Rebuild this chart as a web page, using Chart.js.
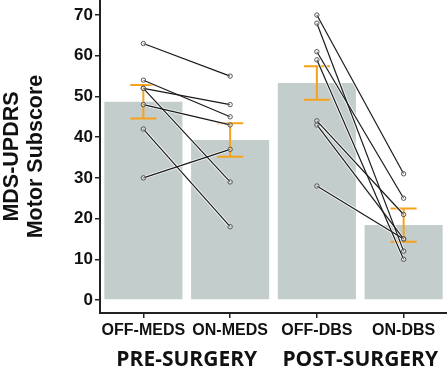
<!DOCTYPE html>
<html><head><meta charset="utf-8">
<script src="https://cdn.jsdelivr.net/npm/chart.js@4/dist/chart.umd.min.js"></script>
<style>html,body{margin:0;padding:0;background:#fff}#wrap{width:447px;height:366px}</style>
</head><body><div id="wrap"><canvas id="c" width="447" height="366"></canvas></div>
<script>
const categories = ['OFF-MEDS', 'ON-MEDS', 'OFF-DBS', 'ON-DBS'];
const groupLabels = ['PRE-SURGERY', 'POST-SURGERY'];
const meanScores = [48.7, 39.3, 53.3, 18.4];
const semScores = [4.1, 4.1, 4.1, 4.1];
const preOffMeds = [63, 54, 52, 52, 48, 42, 30];
const preOnMeds = [55, 45, 48, 29, 43, 18, 37];
const postOffDbs = [70, 68, 61, 59, 44, 43, 28];
const postOnDbs = [31, 12, 25, 10, 21, 15, 15];
const yTickValues = [0, 10, 20, 30, 40, 50, 60, 70];
const yTitle = ['MDS-UPDRS', 'Motor Subscore'];

const barColor = '#c3cdcc';
const errColor = '#f6a21c';

function pairData(c0, c1, a, b, k) {
  return [{x: categories[c0], y: a[k]}, {x: categories[c1], y: b[k]}];
}
const lineSets = [];
const haloSets = [];
function addPair(d) {
  lineSets.push({type: 'line', data: d, borderColor: '#1a1a1a', borderWidth: 1.2, pointRadius: 2.2, pointBorderWidth: 1, pointBorderColor: '#555', pointBackgroundColor: 'rgba(255,255,255,0.35)', order: 0});
  haloSets.push({type: 'line', data: d, borderColor: 'rgba(255,255,255,0.85)', borderWidth: 3, pointRadius: 0, order: 1});
}
preOffMeds.forEach((v, k) => addPair(pairData(0, 1, preOffMeds, preOnMeds, k)));
postOffDbs.forEach((v, k) => addPair(pairData(2, 3, postOffDbs, postOnDbs, k)));

const barDataset = {type: 'bar', data: meanScores, backgroundColor: barColor, borderWidth: 0, barPercentage: 0.9, categoryPercentage: 1.0, order: 5};

const errorBars = {
  id: 'errorBars',
  afterDatasetDraw(chart, args) {
    if (args.meta.type !== 'bar') return;
    const ctx = chart.ctx, xs = chart.scales.x, ys = chart.scales.y;
    ctx.save();
    ctx.strokeStyle = errColor;
    ctx.lineWidth = 2;
    meanScores.forEach((m, i) => {
      const x = xs.getPixelForValue(i);
      const yt = ys.getPixelForValue(m + semScores[i]);
      const yb = ys.getPixelForValue(m - semScores[i]);
      const w = 13;
      ctx.beginPath();
      ctx.moveTo(x, yt); ctx.lineTo(x, yb);
      ctx.moveTo(x - w, yt); ctx.lineTo(x + w, yt);
      ctx.moveTo(x - w, yb); ctx.lineTo(x + w, yb);
      ctx.stroke();
    });
    ctx.restore();
  }
};

new Chart(document.getElementById('c'), {
  data: {labels: categories, datasets: [...lineSets, ...haloSets, barDataset]},
  options: {
    responsive: false,
    animation: false,
    layout: {padding: 0, autoPadding: false},
    plugins: {legend: {display: false}, tooltip: {enabled: false}},
    scales: {
      x: {
        type: 'category',
        offset: true,
        weight: 0,
        grid: {offset: false, drawOnChartArea: false, drawTicks: true, tickLength: 5, color: '#222', lineWidth: 1.5},
        border: {display: true, color: '#222', width: 2},
        ticks: {color: '#111', padding: 3, font: {family: 'Liberation Sans, Arial', weight: 'bold', size: 16}, maxRotation: 0, autoSkip: false},
        afterFit(s) { s.height = 25; s.paddingLeft = 0; s.paddingRight = 0; }
      },
      x2: {
        type: 'category',
        labels: groupLabels,
        offset: true,
        position: 'bottom',
        weight: 1,
        grid: {display: false, drawTicks: false},
        border: {display: false},
        ticks: {color: '#111', padding: 9, font: {family: 'Open Sans', weight: 'bold', size: 21}, maxRotation: 0, autoSkip: false},
        afterFit(s) { s.height = 28; s.paddingLeft = 0; s.paddingRight = 0; }
      },
      y: {
        type: 'linear',
        min: -3.2,
        max: 73.7,
        afterBuildTicks(s) { s.ticks = yTickValues.map(v => ({value: v})); },
        grid: {drawOnChartArea: false, drawTicks: true, tickLength: 5, color: '#222', lineWidth: 1.5},
        border: {display: true, color: '#222', width: 2},
        ticks: {color: '#111', padding: 2, font: {family: 'Liberation Sans, Arial', weight: 'bold', size: 17}},
        title: {display: true, text: yTitle, color: '#111', padding: {top: 0, bottom: 0}, font: {family: 'Liberation Sans, Arial', weight: 'bold', size: 21.5, lineHeight: 1.12}},
        afterFit(s) { s.width = 100; s.paddingTop = 0; s.paddingBottom = 0; }
      }
    }
  },
  plugins: [errorBars]
});
</script></body></html>
